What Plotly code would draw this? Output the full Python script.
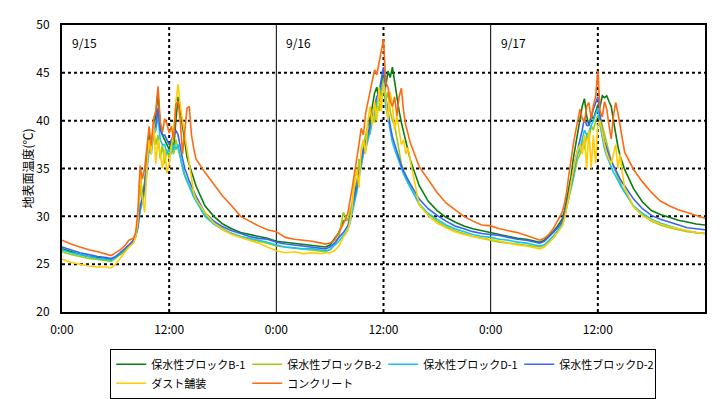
import plotly.graph_objects as go

# hours within one day at which the readings are taken (denser around midday)
day_hours = [0, 1, 2, 3, 4, 5, 5.5, 6, 6.5, 7, 7.5,
             8, 8.25, 8.5, 8.75, 9, 9.25, 9.5, 9.75, 10, 10.25, 10.5, 10.75,
             11, 11.25, 11.5, 11.75, 12, 12.25, 12.5, 12.75, 13, 13.25, 13.5, 13.75,
             14, 14.25, 14.5, 14.75, 15,
             16, 17, 18, 19, 20, 21, 22, 23]
hours = [d * 24 + h for d in range(3) for h in day_hours] + [72]

series_names = ["保水性ブロックB-1", "保水性ブロックB-2", "保水性ブロックD-1",
                "保水性ブロックD-2", "ダスト舗装", "コンクリート"]

b1 = ([26.6, 26.3, 26.0, 25.8, 25.7, 25.6, 25.5, 25.7, 26.0, 26.4, 26.9,
       27.3, 27.9, 29.0, 34.5, 32.0, 33.5, 36.5, 38.5, 37.5, 39.5, 40.5, 43.0, 39.5, 38.5, 38.0, 37.5,
       37.0, 38.0, 37.0, 40.0, 42.5, 41.0, 39.5, 37.5, 36.2, 35.4, 34.6, 33.9, 33.2,
       31.1, 30.0, 29.2, 28.7, 28.3, 28.1, 27.9, 27.7]
      + [27.4, 27.3, 27.2, 27.1, 27.0, 26.9, 26.8, 27.0, 27.6, 28.3, 29.5,
         29.7, 30.0, 31.0, 32.5, 33.5, 34.5, 35.5, 36.5, 37.7, 39.0, 40.5, 41.5, 42.9, 43.5, 42.0, 44.0,
         44.7, 43.5, 45.2, 44.5, 45.6, 44.0, 42.6, 41.0, 39.8, 38.8, 37.8, 36.8, 35.9,
         33.2, 31.6, 30.6, 29.9, 29.4, 29.0, 28.7, 28.5]
      + [28.3, 28.1, 27.9, 27.7, 27.6, 27.4, 27.3, 27.5, 27.9, 28.4, 29.0,
         29.7, 30.5, 31.8, 33.0, 34.2, 36.0, 37.5, 39.0, 40.2, 41.5, 42.3, 40.5, 39.5, 40.5, 40.2, 41.0,
         41.6, 41.5, 42.6, 42.4, 42.6, 42.0, 41.5, 40.0, 38.4, 37.3, 36.3, 35.5, 34.9,
         32.9, 31.5, 30.6, 30.2, 29.9, 29.6, 29.4, 29.2]
      + [29.1])

b2 = ([26.3, 26.0, 25.8, 25.6, 25.5, 25.4, 25.3, 25.6, 26.0, 26.5, 27.0,
       27.5, 28.0, 29.5, 33.0, 31.5, 33.0, 36.0, 38.0, 37.0, 39.0, 37.5, 38.5, 36.0, 37.5, 35.5, 37.0,
       36.0, 37.5, 36.5, 38.0, 37.0, 36.0, 35.0, 34.3, 33.8, 33.3, 32.8, 32.3, 31.7,
       30.2, 29.3, 28.7, 28.2, 27.9, 27.6, 27.4, 27.2]
      + [26.9, 26.8, 26.7, 26.6, 26.5, 26.4, 26.3, 26.5, 27.0, 27.8, 30.4,
         29.5, 30.5, 31.5, 33.5, 33.0, 36.0, 35.0, 37.5, 38.5, 39.5, 38.5, 40.5, 39.8, 42.0, 41.0, 43.0,
         44.5, 42.0, 43.0, 41.0, 40.0, 39.5, 38.0, 36.5, 35.5, 34.8, 34.2, 33.7, 33.2,
         31.2, 30.2, 29.5, 28.9, 28.5, 28.2, 27.9, 27.7]
      + [27.5, 27.3, 27.2, 27.1, 27.0, 26.9, 26.8, 27.0, 27.4, 27.9, 28.5,
         29.0, 29.8, 30.8, 32.0, 33.0, 34.0, 35.0, 36.0, 36.5, 38.0, 37.0, 38.5, 38.0, 39.5, 39.0, 40.0,
         40.5, 40.5, 39.5, 38.5, 37.5, 36.5, 35.8, 35.2, 34.6, 34.0, 33.5, 33.0, 32.6,
         31.0, 30.1, 29.5, 29.1, 28.8, 28.6, 28.4, 28.3]
      + [28.2])

d1 = ([26.5, 26.2, 26.0, 25.8, 25.6, 25.5, 25.4, 25.7, 26.1, 26.5, 27.0,
       27.4, 27.9, 28.8, 30.5, 31.5, 32.5, 34.5, 37.0, 36.5, 38.5, 39.0, 40.5, 38.0, 37.5, 37.5, 36.5,
       37.0, 36.5, 37.5, 37.0, 37.5, 36.0, 35.0, 34.2, 33.6, 33.0, 32.5, 32.0, 31.6,
       30.0, 29.2, 28.6, 28.2, 27.9, 27.7, 27.5, 27.3]
      + [27.0, 26.8, 26.7, 26.6, 26.6, 26.5, 26.4, 26.5, 26.9, 27.4, 28.0,
         28.6, 29.3, 30.3, 31.5, 32.5, 34.0, 35.5, 36.5, 37.0, 38.0, 39.0, 40.0, 41.0, 41.8, 42.5, 43.5,
         44.0, 41.5, 40.3, 39.0, 37.7, 37.0, 36.3, 35.6, 35.0, 34.4, 33.9, 33.4, 33.0,
         31.3, 30.3, 29.7, 29.1, 28.7, 28.4, 28.1, 27.9]
      + [27.8, 27.6, 27.5, 27.3, 27.2, 27.0, 26.9, 27.0, 27.4, 27.9, 28.5,
         29.2, 29.9, 30.8, 32.0, 33.0, 34.0, 35.5, 36.5, 37.0, 38.0, 39.0, 38.5, 38.8, 39.5, 40.0, 40.7,
         41.2, 39.5, 38.2, 37.0, 36.3, 35.7, 35.1, 34.6, 34.2, 33.7, 33.3, 32.9, 32.5,
         31.1, 30.3, 29.7, 29.3, 29.0, 28.7, 28.5, 28.3]
      + [28.2])

d2 = ([26.8, 26.5, 26.2, 26.0, 25.8, 25.7, 25.6, 25.8, 26.2, 26.6, 27.0,
       27.5, 28.0, 29.0, 31.0, 32.0, 33.0, 35.5, 37.5, 37.0, 39.0, 39.5, 41.3, 39.0, 38.5, 38.5, 38.0,
       37.5, 38.0, 38.5, 39.0, 38.5, 37.0, 36.0, 35.0, 34.3, 33.7, 33.2, 32.6, 32.1,
       30.4, 29.5, 28.9, 28.5, 28.2, 27.9, 27.7, 27.6]
      + [27.3, 27.1, 27.0, 26.9, 26.8, 26.7, 26.6, 26.8, 27.2, 27.8, 28.3,
         29.0, 29.8, 31.0, 32.0, 33.0, 34.5, 35.8, 37.0, 37.5, 38.5, 39.5, 40.8, 41.8, 42.5, 43.0, 44.5,
         45.6, 42.5, 40.8, 39.5, 38.3, 37.5, 36.8, 36.0, 35.3, 34.7, 34.2, 33.8, 33.4,
         31.8, 30.8, 30.1, 29.5, 29.0, 28.7, 28.4, 28.2]
      + [28.1, 28.0, 27.8, 27.6, 27.5, 27.3, 27.2, 27.4, 27.8, 28.3, 28.8,
         29.4, 30.2, 31.2, 32.2, 33.2, 34.5, 36.0, 37.0, 37.7, 39.0, 40.3, 39.5, 39.5, 40.2, 41.2, 41.8,
         42.5, 40.5, 38.8, 37.8, 37.0, 36.4, 35.8, 35.3, 34.9, 34.4, 33.9, 33.5, 33.2,
         31.8, 30.8, 30.1, 29.7, 29.4, 29.1, 28.8, 28.7]
      + [28.6])

dust = ([25.5, 25.2, 25.0, 24.8, 24.7, 24.7, 24.6, 25.0, 25.6, 26.2, 26.8,
         27.2, 27.8, 29.5, 34.5, 32.0, 30.4, 35.0, 38.0, 36.5, 40.0, 35.5, 38.0, 36.5, 35.0, 37.0, 34.5,
         35.5, 37.0, 39.0, 42.0, 43.8, 41.5, 40.0, 38.5, 37.0, 35.5, 33.5, 32.5, 31.8,
         30.4, 29.3, 28.6, 28.1, 27.8, 27.5, 27.2, 26.8]
        + [26.4, 26.2, 26.3, 26.1, 26.2, 26.1, 26.2, 26.2, 26.4, 26.9, 27.8,
           28.5, 29.5, 31.0, 33.5, 35.0, 33.0, 37.0, 38.0, 36.5, 40.0, 41.5, 39.5, 42.0, 40.0, 43.5, 41.0,
           44.0, 42.5, 40.0, 43.0, 41.5, 39.0, 40.5, 39.0, 37.5, 38.0, 36.5, 37.2, 35.8,
           31.2, 30.1, 29.3, 28.8, 28.4, 28.1, 27.9, 27.7]
        + [27.6, 27.4, 27.2, 27.0, 26.9, 26.7, 26.6, 26.8, 27.2, 27.7, 28.3,
           29.0, 29.7, 30.8, 32.0, 33.5, 35.0, 36.0, 37.0, 37.5, 36.5, 38.5, 35.0, 39.0, 35.0, 38.5, 35.5,
           39.5, 40.0, 38.5, 37.5, 36.5, 36.0, 35.5, 36.5, 37.5, 35.0, 36.5, 34.5, 33.0,
           31.0, 30.1, 29.6, 29.2, 28.9, 28.7, 28.5, 28.3]
        + [28.2])

concrete = ([27.5, 27.1, 26.8, 26.5, 26.3, 26.0, 25.9, 26.2, 26.5, 26.9, 27.5,
             27.7, 28.3, 30.5, 35.3, 33.9, 35.0, 37.1, 39.4, 37.4, 40.2, 41.0, 43.6, 39.9, 38.8, 40.2, 39.7,
             38.7, 39.4, 38.0, 41.7, 42.0, 39.9, 36.5, 39.2, 41.3, 41.5, 38.5, 37.1, 36.0,
             34.6, 33.4, 32.1, 31.1, 30.0, 29.5, 29.0, 28.6]
            + [28.4, 27.8, 27.6, 27.5, 27.4, 27.2, 27.1, 27.2, 27.5, 28.3, 29.2,
               30.3, 31.5, 33.0, 34.5, 35.8, 37.5, 39.2, 38.5, 40.8, 42.0, 42.8, 44.0, 45.3, 44.8, 46.2, 47.3,
               48.5, 44.0, 43.5, 42.0, 41.5, 42.5, 40.5, 42.5, 43.4, 41.0, 39.5, 38.5, 37.7,
               35.2, 33.9, 32.5, 31.4, 30.7, 30.0, 29.5, 29.1]
            + [29.0, 28.7, 28.5, 28.3, 28.0, 27.7, 27.5, 27.7, 28.1, 28.7, 29.5,
               30.4, 31.3, 32.5, 34.3, 36.0, 37.5, 38.8, 40.0, 41.2, 40.2, 39.8, 41.5, 41.9, 40.2, 41.6, 42.5,
               45.2, 41.0, 40.4, 42.0, 41.2, 39.5, 38.1, 40.5, 41.9, 40.8, 39.3, 37.8, 36.7,
               34.9, 33.6, 32.5, 31.6, 31.1, 30.7, 30.4, 30.1]
            + [29.8])

x_tick_vals = [0, 12, 24, 36, 48, 60]
x_tick_text = ["0:00", "12:00", "0:00", "12:00", "0:00", "12:00"]
y_tick_vals = [20, 25, 30, 35, 40, 45, 50]
day_labels = ["9/15", "9/16", "9/17"]
day_starts = [0, 24, 48]

colors = ["#0a7d12", "#9acd0a", "#13c6f0", "#3a64f0", "#ffcc00", "#ff6a10"]
all_series = [b1, b2, d1, d2, dust, concrete]

fig = go.Figure()
for name, vals, col in zip(series_names, all_series, colors):
    fig.add_trace(go.Scatter(x=hours, y=vals, mode="lines", name=name,
                             line=dict(color=col, width=1.6)))

# grid lines
for yv in [25, 30, 35, 40, 45]:
    fig.add_shape(type="line", xref="x", yref="y", x0=0, x1=72, y0=yv, y1=yv,
                  line=dict(color="black", width=2, dash="3px,3px"), layer="below")
for xv in [12, 36, 60]:
    fig.add_shape(type="line", xref="x", yref="y", x0=xv, x1=xv, y0=20, y1=50,
                  line=dict(color="black", width=2, dash="3px,3px"), layer="below")
for xv in [24, 48]:
    fig.add_shape(type="line", xref="x", yref="y", x0=xv, x1=xv, y0=20, y1=50,
                  line=dict(color="black", width=1), layer="below")

for lab, ds in zip(day_labels, day_starts):
    fig.add_annotation(x=ds + 0.9, y=48.2, xref="x", yref="y", text=lab,
                       showarrow=False, xanchor="left", yanchor="middle",
                       font=dict(size=12, color="black"))

font_family = "Noto Sans CJK JP, Liberation Sans, sans-serif"
fig.update_layout(
    width=713, height=391,
    margin=dict(l=54, r=16, t=17, b=87, autoexpand=False),
    paper_bgcolor="white", plot_bgcolor="white",
    font=dict(family=font_family, size=12, color="black"),
    showlegend=True,
    legend=dict(orientation="h", x=0.075, y=-0.128, xanchor="left", yanchor="top",
                bordercolor="black", borderwidth=1, bgcolor="white",
                font=dict(size=11), entrywidth=91, itemwidth=30,
                tracegroupgap=0),
)
fig.update_xaxes(range=[0, 72], tickvals=x_tick_vals, ticktext=x_tick_text,
                 showgrid=False, zeroline=False, showline=True, linecolor="black",
                 linewidth=2, mirror=True, ticks="", tickfont=dict(size=12),
                 ticklabelstandoff=6)
fig.update_yaxes(range=[20, 50], tickvals=y_tick_vals, showgrid=False, zeroline=False,
                 showline=True, linecolor="black", linewidth=2, mirror=True, ticks="",
                 title=dict(text="地表面温度(℃)", font=dict(size=12), standoff=0),
                 tickfont=dict(size=12), ticklabelstandoff=8)

fig.write_html("out.html")
